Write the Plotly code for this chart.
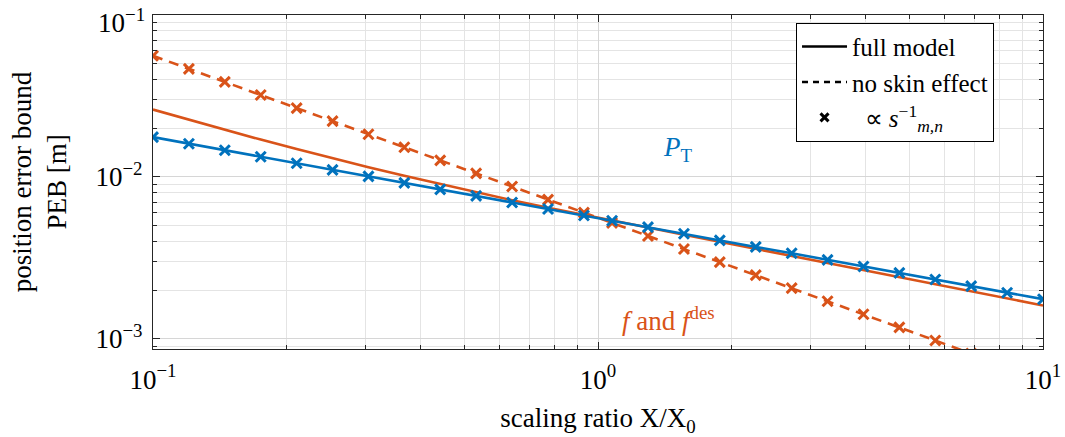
import numpy as np
import plotly.graph_objects as go

# scaling ratio X/X0 at the evaluated sample points
ratio = [0.1, 0.1204, 0.1450, 0.1746, 0.2103, 0.2532, 0.3049, 0.3671, 0.4420,
         0.5323, 0.6412, 0.7722, 0.9298, 1.0755, 1.295, 1.560, 1.878, 2.262,
         2.724, 3.280, 3.950, 4.756, 5.727, 6.897, 8.305, 10.0]

# PEB [m] when scaling the transmit power P_T
peb_power = [0.01762, 0.01605, 0.01463, 0.01333, 0.01215, 0.01107, 0.01009,
             0.00920, 0.00838, 0.00764, 0.00696, 0.00634, 0.00578, 0.00537,
             0.00490, 0.00446, 0.00406, 0.00370, 0.00338, 0.00308, 0.00280,
             0.00256, 0.00233, 0.00212, 0.00193, 0.00176]

# PEB [m] when scaling f and f_des, full model
peb_freq_full = [0.02606, 0.02253, 0.01953, 0.01701, 0.01487, 0.01305, 0.01150,
                 0.01017, 0.00903, 0.00804, 0.00719, 0.00646, 0.00582, 0.00538,
                 0.00487, 0.00440, 0.00398, 0.00360, 0.00326, 0.00295, 0.00267,
                 0.00241, 0.00218, 0.00197, 0.00179, 0.00161]

# PEB [m] when scaling f and f_des, no skin effect
peb_freq_noskin = [0.0560, 0.04651, 0.03862, 0.03207, 0.02663, 0.02212, 0.01837,
                   0.01525, 0.01267, 0.01052, 0.00873, 0.00725, 0.00602, 0.00521,
                   0.00432, 0.00359, 0.00298, 0.00248, 0.00206, 0.00171, 0.00142,
                   0.00118, 0.000978, 0.000812, 0.000674, 0.00056]

x_ticks = [0.1, 1, 10]
x_tick_text = ["10<sup>\u22121</sup>", "10<sup>0</sup>", "10<sup>1</sup>"]
y_ticks = [0.001, 0.01, 0.1]
# the top label is placed separately so that it stays inside the page
y_tick_text = ["10<sup>\u22123</sup>", "10<sup>\u22122</sup>", ""]
y_top_label = "10<sup>\u22121</sup>"

legend_names = ["full model", "no skin effect",
                "  \u221d <i>s</i><sup>\u22121</sup><sub><i>m,n</i></sub>"]

BLUE = "#0072BD"
ORANGE = "#D95319"
FONT = "Liberation Serif"
FS = 27

fig = go.Figure()

fig.add_trace(go.Scatter(
    x=ratio, y=peb_freq_full, mode="lines",
    line=dict(color=ORANGE, width=2.6), showlegend=False))
fig.add_trace(go.Scatter(
    x=ratio, y=peb_freq_noskin, mode="lines+markers",
    line=dict(color=ORANGE, width=2.6, dash="10px,7px"),
    marker=dict(color=ORANGE, symbol="x-thin", size=10, line=dict(color=ORANGE, width=3)),
    showlegend=False))
fig.add_trace(go.Scatter(
    x=ratio, y=peb_power, mode="lines+markers",
    line=dict(color=BLUE, width=2.6),
    marker=dict(color=BLUE, symbol="x-thin", size=10, line=dict(color=BLUE, width=3)),
    showlegend=False))

# legend key entries (black)
fig.add_trace(go.Scatter(x=[None], y=[None], mode="lines", name=legend_names[0],
                         line=dict(color="black", width=2.5), legendgroup="a"))
fig.add_trace(go.Scatter(x=[None], y=[None], mode="lines", name=legend_names[1],
                         line=dict(color="black", width=2.5, dash="6px,5px"), legendgroup="b"))
fig.add_trace(go.Scatter(x=[None], y=[None], mode="markers", name=legend_names[2],
                         marker=dict(color="black", symbol="x-thin", size=8,
                                     line=dict(color="black", width=3)), legendgroup="c"))

fig.add_annotation(x=np.log10(1.51), y=np.log10(0.0148), xref="x", yref="y",
                   text="<i>P</i><sub>T</sub>", showarrow=False,
                   font=dict(family=FONT, size=FS, color=BLUE))
fig.add_annotation(x=np.log10(1.44), y=np.log10(0.00133), xref="x", yref="y",
                   text="<i>f</i> and <i>f</i><sup>des</sup>", showarrow=False,
                   font=dict(family=FONT, size=FS, color=ORANGE))
fig.add_annotation(x=0, y=1, xref="paper", yref="paper", xanchor="right", yanchor="top",
                   xshift=-6, yshift=13, text=y_top_label, showarrow=False,
                   font=dict(family=FONT, size=FS, color="black"))

minor_vals_x = [m * d for d in (0.1, 1.0) for m in range(2, 10)]
minor_vals_y = [m * d for d in (0.0001, 0.001, 0.01) for m in range(2, 10)]

axis_common = dict(
    type="log", showline=True, linecolor="#262626", linewidth=1.2,
    mirror="allticks", ticks="inside", ticklen=7, tickcolor="#262626",
    showgrid=True, gridcolor="#d6d6d6", gridwidth=1, zeroline=False,
    tickmode="array", tickfont=dict(family=FONT, size=FS, color="black"),
    automargin=False, ticklabeloverflow="allow",
)

fig.update_xaxes(
    **axis_common, range=[-1, 1], tickvals=x_ticks, ticktext=x_tick_text,
    ticklabelstandoff=6,
    minor=dict(tickvals=minor_vals_x, showgrid=True, gridcolor="#e4e4e4",
               ticks="inside", ticklen=4, tickcolor="#262626"),
    title=dict(text="scaling ratio X/X<sub>0</sub>",
               font=dict(family=FONT, size=FS, color="black"), standoff=15),
)
fig.update_yaxes(
    **axis_common, range=[np.log10(8.67e-4), -1], tickvals=y_ticks, ticktext=y_tick_text,
    ticklabelstandoff=4,
    minor=dict(tickvals=minor_vals_y, showgrid=True, gridcolor="#e4e4e4",
               ticks="inside", ticklen=4, tickcolor="#262626"),
    title=dict(text="position error bound<br>PEB [m]",
               font=dict(family=FONT, size=FS, color="black"), standoff=20),
)

fig.update_layout(
    width=1065, height=437,
    margin=dict(l=153, r=22, t=15, b=88),
    paper_bgcolor="white", plot_bgcolor="white",
    font=dict(family=FONT, size=FS, color="black"),
    legend=dict(x=0.7225, y=0.977, xanchor="left", yanchor="top",
                bgcolor="white", bordercolor="black", borderwidth=1,
                font=dict(family=FONT, size=25), traceorder="grouped",
                tracegroupgap=0, itemwidth=45),
)

fig.write_html("out.html")
